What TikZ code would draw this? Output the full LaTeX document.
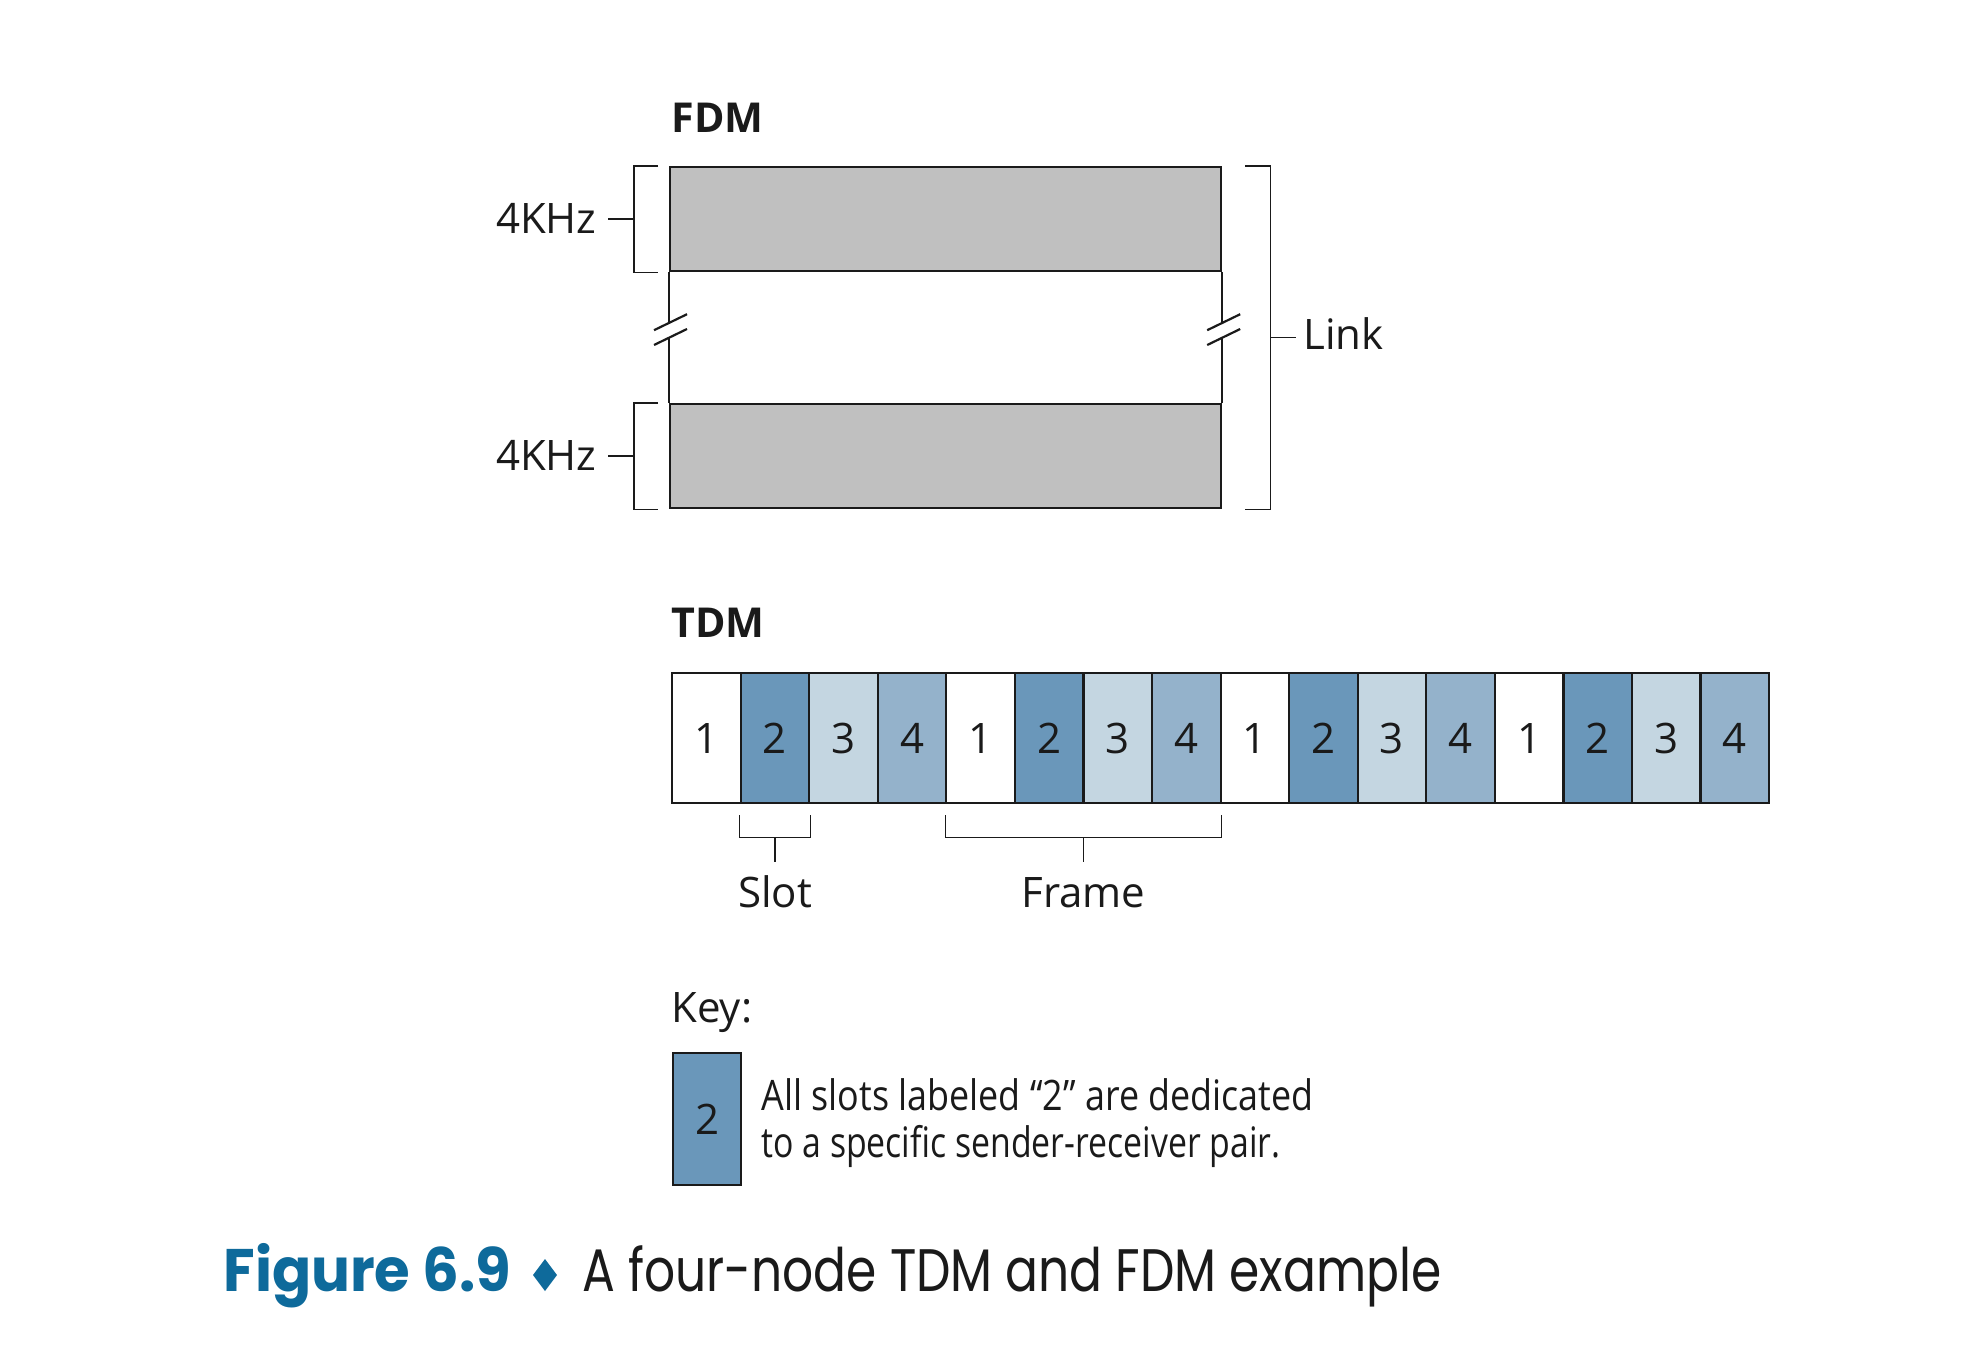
\documentclass[tikz,border=0pt]{standalone}
\usepackage{fontspec}
\usepackage{graphicx}
\setmainfont{Open Sans}
\newfontfamily\capfont{Poppins}
\usetikzlibrary{calc}
\definecolor{bandgray}{HTML}{C0C0C0}
\definecolor{slotA}{HTML}{FFFFFF}
\definecolor{slotB}{HTML}{6A97BA}
\definecolor{slotC}{HTML}{C4D6E1}
\definecolor{slotD}{HTML}{94B2CB}
\definecolor{capblue}{HTML}{0E6A9B}
\definecolor{ink}{HTML}{1A1A1A}
\begin{document}
\begin{tikzpicture}[x=0.5pt,y=-0.5pt,
  lbl/.style={text=ink, inner sep=0pt, font=\fontsize{21}{24}\selectfont},
  hdr/.style={lbl, font=\fontsize{20.6}{24}\selectfont\bfseries},
  band/.style={draw=ink, line width=1.1pt, fill=bandgray, rectangle, inner sep=0pt,
    minimum width=275.5pt, minimum height=52pt, anchor=north west},
  cellbox/.style={draw=ink, line width=1.1pt, rectangle, inner sep=0pt,
    minimum width=34.28pt, minimum height=65pt, anchor=north west, text=ink,
    font=\fontsize{21}{24}\selectfont},
  brk/.style={draw=ink, line width=0.7pt},
  edge/.style={draw=ink, line width=1.1pt}]
\useasboundingbox (0,0) rectangle (1962,1354);
\fill[white] (0,0) rectangle (1962,1354);

% ---------- FDM ----------
\node[hdr, anchor=base west] (fdm) at (671,133) {FDM};
\node[band] (top) at (669,166) {};
\node[band] (bot) at (669,403) {};

% side lines with break marks
\coordinate (la) at ($(top.south west)+(0,51)$);
\coordinate (lb) at ($(bot.north west)+(0,-65)$);
\coordinate (ra) at ($(top.south east)+(0,51)$);
\coordinate (rb) at ($(bot.north east)+(0,-65)$);
\draw[edge] (top.south west) -- (la);
\draw[edge] (lb) -- (bot.north west);
\draw[edge] (top.south east) -- (ra);
\draw[edge] (rb) -- (bot.north east);
\foreach \p in {la, lb, ra, rb} {
  \draw[edge] ($(\p)+(-15,7)$) -- ($(\p)+(18,-9)$);
}

% left brackets
\foreach \b/\nm in {top/ka, bot/kb} {
  \draw[brk] ($(\b.north west)+(-11,0)$) -- ($(\b.north west)+(-35,0)$)
    -- ($(\b.south west)+(-35,0)$) -- ($(\b.south west)+(-11,0)$);
  \draw[brk] ($(\b.west)+(-35,0)$) -- ($(\b.west)+(-61,0)$);
  \node[lbl, anchor=base east] (\nm) at ($(\b.west)+(-72,14)$) {4KHz};
}

% right bracket (Link)
\draw[brk] ($(top.north east)+(23,0)$) -- ($(top.north east)+(48,0)$)
  -- ($(bot.south east)+(48,0)$) -- ($(bot.south east)+(23,0)$);
\coordinate (lk) at ($(top.north east)!0.5!(bot.south east)+(48,0)$);
\draw[brk] (lk) -- ++(26,0);
\node[lbl, anchor=base west] (link) at (1303,349) {Link};

% ---------- TDM ----------
\node[hdr, anchor=base west] (tdm) at (671,637) {TDM};
\foreach \f in {0,...,3} {
  \foreach \k/\c in {1/slotA, 2/slotB, 3/slotC, 4/slotD} {
    \pgfmathtruncatemacro\n{\f*4+\k}
    \pgfmathsetmacro\xx{671+(\n-1)*68.56}
    \node[cellbox, fill=\c] (c\n) at (\xx,672) {\k};
  }
}

% slot bracket
\draw[brk] ($(c2.south west)+(0,11)$) -- ($(c2.south west)+(0,33)$)
  -- ($(c2.south east)+(0,33)$) -- ($(c2.south east)+(0,11)$);
\draw[brk] ($(c2.south)+(0,33)$) -- ($(c2.south)+(0,58)$);
\node[lbl, anchor=base] (slot) at ($(c2.south)+(0,103)$) {Slot};

% frame bracket
\draw[brk] ($(c5.south west)+(0,11)$) -- ($(c5.south west)+(0,33)$)
  -- ($(c8.south east)+(0,33)$) -- ($(c8.south east)+(0,11)$);
\coordinate (fm) at ($(c5.south west)!0.5!(c8.south east)$);
\draw[brk] ($(fm)+(0,33)$) -- ($(fm)+(0,58)$);
\node[lbl, anchor=base] (frame) at ($(fm)+(0,103)$) {Frame};

% ---------- Key ----------
\node[lbl, anchor=base west] (key) at (671,1022) {Key:};
\node[cellbox, fill=slotB, minimum width=34pt, minimum height=66pt] (kbox) at (672,1052) {2};
\node[lbl, anchor=base west] (k1) at (761,1110) {\resizebox{276pt}{\height}{All slots labeled “2” are dedicated}};
\node[lbl, anchor=base west] (k2) at (761,1157) {\resizebox{259.5pt}{\height}{to a specific sender-receiver pair.}};

% ---------- Caption ----------
\node[inner sep=0pt, anchor=base west, text=capblue, font=\fontsize{30}{34}\capfont\bfseries] (fig) at (223,1291) {\resizebox{144pt}{\height}{Figure 6.9}};
\fill[capblue] (545,1259) -- (557,1275) -- (545,1291) -- (533,1275) -- cycle;
\node[inner sep=0pt, anchor=base west, text=ink, font=\fontsize{30}{34}\capfont] (cap) at (582,1291) {\resizebox{429.5pt}{\height}{A four-node TDM and FDM example}};
\end{tikzpicture}
\end{document}
